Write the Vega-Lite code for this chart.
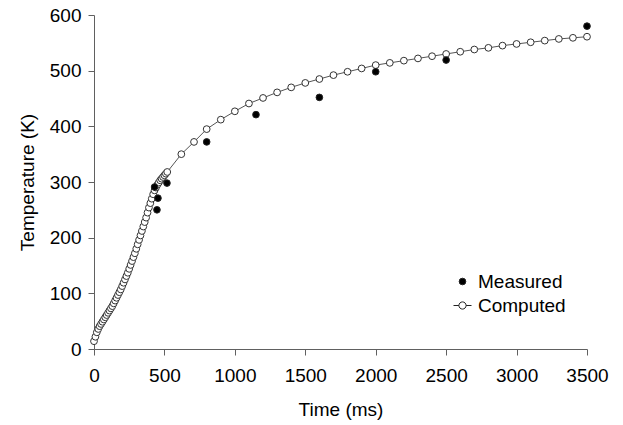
{
  "$schema": "https://vega.github.io/schema/vega-lite/v6.json",
  "width": 493,
  "height": 334,
  "autosize": "none",
  "padding": {"left": 94, "top": 15, "right": 36, "bottom": 76},
  "background": "white",
  "config": {
    "view": {"stroke": null},
    "font": "Liberation Sans",
    "axis": {
      "grid": false,
      "domainColor": "#606060",
      "tickColor": "#606060",
      "tickSize": 6,
      "labelFont": "Liberation Sans",
      "titleFont": "Liberation Sans",
      "labelFontSize": 19,
      "titleFontSize": 19,
      "titleFontWeight": "normal",
      "labelColor": "#000000",
      "titleColor": "#000000"
    }
  },
  "datasets": {
    "temps": [
      {"t": 0, "v": 14, "series": "Computed"},
      {"t": 10, "v": 22, "series": "Computed"},
      {"t": 20, "v": 30, "series": "Computed"},
      {"t": 30, "v": 36, "series": "Computed"},
      {"t": 40, "v": 41, "series": "Computed"},
      {"t": 50, "v": 45, "series": "Computed"},
      {"t": 60, "v": 49, "series": "Computed"},
      {"t": 70, "v": 53, "series": "Computed"},
      {"t": 80, "v": 57, "series": "Computed"},
      {"t": 90, "v": 61, "series": "Computed"},
      {"t": 100, "v": 65, "series": "Computed"},
      {"t": 110, "v": 69, "series": "Computed"},
      {"t": 120, "v": 73, "series": "Computed"},
      {"t": 130, "v": 77, "series": "Computed"},
      {"t": 140, "v": 82, "series": "Computed"},
      {"t": 150, "v": 87, "series": "Computed"},
      {"t": 160, "v": 92, "series": "Computed"},
      {"t": 170, "v": 97, "series": "Computed"},
      {"t": 180, "v": 102, "series": "Computed"},
      {"t": 190, "v": 107, "series": "Computed"},
      {"t": 200, "v": 113, "series": "Computed"},
      {"t": 210, "v": 119, "series": "Computed"},
      {"t": 220, "v": 125, "series": "Computed"},
      {"t": 230, "v": 131, "series": "Computed"},
      {"t": 240, "v": 137, "series": "Computed"},
      {"t": 250, "v": 144, "series": "Computed"},
      {"t": 260, "v": 151, "series": "Computed"},
      {"t": 270, "v": 158, "series": "Computed"},
      {"t": 280, "v": 165, "series": "Computed"},
      {"t": 290, "v": 172, "series": "Computed"},
      {"t": 300, "v": 180, "series": "Computed"},
      {"t": 310, "v": 188, "series": "Computed"},
      {"t": 320, "v": 196, "series": "Computed"},
      {"t": 330, "v": 204, "series": "Computed"},
      {"t": 340, "v": 212, "series": "Computed"},
      {"t": 350, "v": 220, "series": "Computed"},
      {"t": 360, "v": 228, "series": "Computed"},
      {"t": 370, "v": 236, "series": "Computed"},
      {"t": 380, "v": 245, "series": "Computed"},
      {"t": 390, "v": 254, "series": "Computed"},
      {"t": 400, "v": 262, "series": "Computed"},
      {"t": 410, "v": 270, "series": "Computed"},
      {"t": 420, "v": 278, "series": "Computed"},
      {"t": 430, "v": 285, "series": "Computed"},
      {"t": 440, "v": 290, "series": "Computed"},
      {"t": 450, "v": 295, "series": "Computed"},
      {"t": 460, "v": 299, "series": "Computed"},
      {"t": 470, "v": 303, "series": "Computed"},
      {"t": 480, "v": 306, "series": "Computed"},
      {"t": 490, "v": 309, "series": "Computed"},
      {"t": 500, "v": 312, "series": "Computed"},
      {"t": 510, "v": 315, "series": "Computed"},
      {"t": 520, "v": 318, "series": "Computed"},
      {"t": 620, "v": 350, "series": "Computed"},
      {"t": 710, "v": 372, "series": "Computed"},
      {"t": 800, "v": 395, "series": "Computed"},
      {"t": 900, "v": 412, "series": "Computed"},
      {"t": 1000, "v": 427, "series": "Computed"},
      {"t": 1100, "v": 441, "series": "Computed"},
      {"t": 1200, "v": 451, "series": "Computed"},
      {"t": 1300, "v": 461, "series": "Computed"},
      {"t": 1400, "v": 470, "series": "Computed"},
      {"t": 1500, "v": 478, "series": "Computed"},
      {"t": 1600, "v": 485, "series": "Computed"},
      {"t": 1700, "v": 492, "series": "Computed"},
      {"t": 1800, "v": 498, "series": "Computed"},
      {"t": 1900, "v": 504, "series": "Computed"},
      {"t": 2000, "v": 510, "series": "Computed"},
      {"t": 2100, "v": 514, "series": "Computed"},
      {"t": 2200, "v": 518, "series": "Computed"},
      {"t": 2300, "v": 522, "series": "Computed"},
      {"t": 2400, "v": 526, "series": "Computed"},
      {"t": 2500, "v": 530, "series": "Computed"},
      {"t": 2600, "v": 534, "series": "Computed"},
      {"t": 2700, "v": 538, "series": "Computed"},
      {"t": 2800, "v": 541, "series": "Computed"},
      {"t": 2900, "v": 545, "series": "Computed"},
      {"t": 3000, "v": 548, "series": "Computed"},
      {"t": 3100, "v": 551, "series": "Computed"},
      {"t": 3200, "v": 554, "series": "Computed"},
      {"t": 3300, "v": 557, "series": "Computed"},
      {"t": 3400, "v": 559, "series": "Computed"},
      {"t": 3500, "v": 561, "series": "Computed"},
      {"t": 430, "v": 291, "series": "Measured"},
      {"t": 454, "v": 271, "series": "Measured"},
      {"t": 447, "v": 250, "series": "Measured"},
      {"t": 518, "v": 298, "series": "Measured"},
      {"t": 800, "v": 372, "series": "Measured"},
      {"t": 1150, "v": 421, "series": "Measured"},
      {"t": 1600, "v": 452, "series": "Measured"},
      {"t": 2000, "v": 498, "series": "Measured"},
      {"t": 2500, "v": 519, "series": "Measured"},
      {"t": 3500, "v": 580, "series": "Measured"}
    ]
  },
  "data": {"name": "temps"},
  "encoding": {
    "x": {
      "field": "t",
      "type": "quantitative",
      "scale": {"domain": [0, 3500], "nice": false, "zero": false},
      "axis": {"values": [0, 500, 1000, 1500, 2000, 2500, 3000, 3500], "format": "d", "title": "Time (ms)", "labelPadding": 11, "titlePadding": 15, "labelFlush": false}
    },
    "y": {
      "field": "v",
      "type": "quantitative",
      "scale": {"domain": [0, 600], "nice": false},
      "axis": {"values": [0, 100, 200, 300, 400, 500, 600], "format": "d", "title": "Temperature (K)", "labelPadding": 7, "titlePadding": 12, "labelFlush": false}
    }
  },
  "layer": [
    {
      "transform": [{"filter": "datum.series === 'Computed'"}],
      "mark": {"type": "line", "color": "#555555", "strokeWidth": 1},
      "encoding": {"order": {"field": "t", "type": "quantitative"}}
    },
    {
      "transform": [{"filter": "datum.series === 'Computed'"}],
      "mark": {"type": "point", "shape": "circle", "filled": true, "fill": "#ffffff", "stroke": "#333333", "strokeWidth": 1, "opacity": 1, "size": 46}
    },
    {
      "transform": [{"filter": "datum.series === 'Measured'"}],
      "mark": {"type": "point", "filled": true, "stroke": "#222222", "strokeWidth": 1, "opacity": 1},
      "encoding": {
        "shape": {
          "field": "series",
          "type": "nominal",
          "scale": {"domain": ["Measured", "Computed"], "range": ["circle", "M-1,0L-0.4,0M0.4,0L1,0M-0.4,0A0.4,0.4 0 1,1 0.4,0A0.4,0.4 0 1,1 -0.4,0Z"]},
          "legend": {
            "title": null,
            "orient": "none",
            "legendX": 359,
            "legendY": 257,
            "padding": 0,
            "symbolStrokeWidth": 1,
            "labelFontSize": 19,
            "labelFont": "Liberation Sans",
            "labelColor": "#000000",
            "labelOffset": 6,
            "rowPadding": 4
          }
        },
        "fill": {
          "field": "series",
          "type": "nominal",
          "scale": {"domain": ["Measured", "Computed"], "range": ["#000000", "#ffffff"]},
          "legend": {
            "title": null,
            "orient": "none",
            "legendX": 359,
            "legendY": 257,
            "padding": 0,
            "symbolStrokeWidth": 1,
            "labelFontSize": 19,
            "labelFont": "Liberation Sans",
            "labelColor": "#000000",
            "labelOffset": 6,
            "rowPadding": 4
          }
        },
        "size": {
          "field": "series",
          "type": "nominal",
          "scale": {"type": "ordinal", "domain": ["Measured", "Computed"], "range": [44, 324]},
          "legend": {
            "title": null,
            "orient": "none",
            "legendX": 359,
            "legendY": 257,
            "padding": 0,
            "symbolStrokeWidth": 1,
            "labelFontSize": 19,
            "labelFont": "Liberation Sans",
            "labelColor": "#000000",
            "labelOffset": 6,
            "rowPadding": 4
          }
        }
      }
    }
  ]
}
